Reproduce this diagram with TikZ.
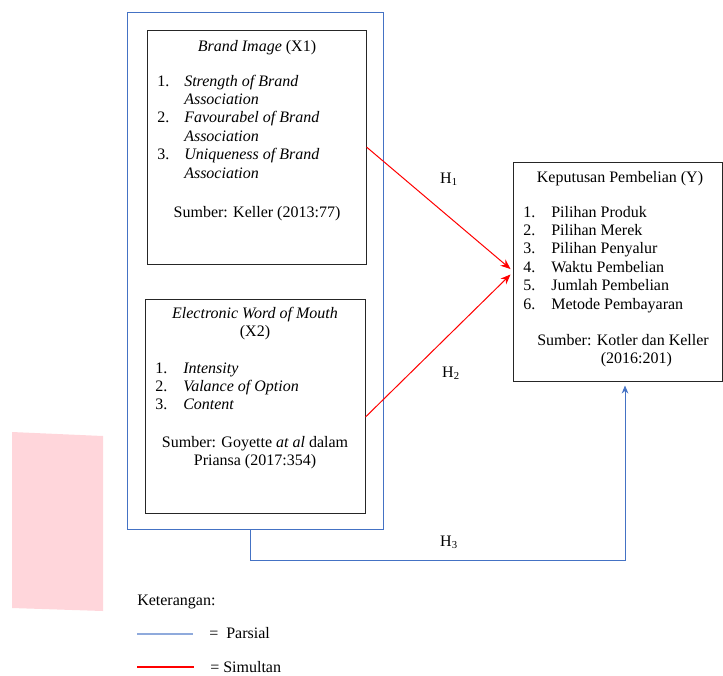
\documentclass[tikz,border=0pt]{standalone}
\usepackage{fontspec}
\setmainfont{Liberation Serif}
\usetikzlibrary{arrows.meta,calc,positioning}
\definecolor{wordblue}{RGB}{68,114,196}
\definecolor{legblue}{RGB}{143,170,220}
\definecolor{pinkpatch}{RGB}{255,214,219}

\tikzset{
  frame/.style={draw=wordblue, line width=0.75pt, inner sep=0pt},
  varbox/.style={draw=black!85, line width=0.75pt, inner sep=0pt},
  txt/.style={inner sep=0pt, font=\fontsize{12}{13.8}\selectfont},
  simultan/.style={draw=red, line width=0.75pt, -{Stealth[length=7.5pt,width=6pt]}},
  parsial/.style={draw=wordblue, line width=0.75pt, -{Stealth[length=6pt,width=5pt]}},
}

\begin{document}
\begin{tikzpicture}[x=0.75pt,y=0.75pt,yscale=-1,xscale=1]
    \useasboundingbox (0,0) rectangle (723,675);

    %Shape: pink patch
    \fill[pinkpatch] (12,432) -- (103,436) -- (103,611) -- (12,608) -- cycle;

    %Shape: blue frame round X1 and X2
    \node[frame, minimum width=192pt, minimum height=387.75pt] (frame) at (255,270.5) {};
    %Shape: boxes
    \node[varbox, minimum width=164.25pt, minimum height=175.5pt] (bi) at (256.5,147) {};
    \node[varbox, minimum width=165pt, minimum height=160.5pt] (ewom) at (255,406) {};
    \node[varbox, minimum width=156.75pt, minimum height=164.25pt] (kp) at (617.5,271.5) {};

    % Text Node
    \node[txt, anchor=base] (bititle) at (257,51) {\textit{Brand Image} (X1)};
    % Text Node
    \node[txt, anchor=base west] (bilist) at (157,86) {\begin{tabular}[t]{@{}p{20.25pt}@{}l@{}}
      1. & \textit{Strength of Brand}\\
         & \textit{Association}\\
      2. & \textit{Favourabel of Brand}\\
         & \textit{Association}\\
      3. & \textit{Uniqueness of Brand}\\
         & \textit{Association}
    \end{tabular}};
    % Text Node
    \node[txt, anchor=base] (bisrc) at (257,217) {Sumber: Keller (2013:77)};

    % Text Node
    \node[txt, anchor=base] (ewtitle) at (255,318) {\begin{tabular}[t]{@{}c@{}}
      \textit{Electronic Word of Mouth}\\ (X2)
    \end{tabular}};
    % Text Node
    \node[txt, anchor=base west] (ewlist) at (155,373) {\begin{tabular}[t]{@{}p{21pt}@{}l@{}}
      1. & \textit{Intensity}\\
      2. & \textit{Valance of Option}\\
      3. & \textit{Content}
    \end{tabular}};
    % Text Node
    \node[txt, anchor=base] (ewsrc) at (255,447) {\begin{tabular}[t]{@{}c@{}}
      Sumber: Goyette \textit{at al} dalam\\ Priansa (2017:354)
    \end{tabular}};

    % Text Node
    \node[txt, anchor=base] (kptitle) at (620,182) {Keputusan Pembelian (Y)};
    % Text Node
    \node[txt, anchor=base west] (kplist) at (523,217) {\begin{tabular}[t]{@{}p{21pt}@{}l@{}}
      1. & Pilihan Produk\\
      2. & Pilihan Merek\\
      3. & Pilihan Penyalur\\
      4. & Waktu Pembelian\\
      5. & Jumlah Pembelian\\
      6. & Metode Pembayaran
    \end{tabular}};
    % Text Node
    \node[txt, anchor=base] (kpsrc) at (623,345) {\begin{tabular}[t]{@{}c@{}}
      Sumber: Kotler dan Keller\\ \hspace*{20pt}(2016:201)
    \end{tabular}};

    %Arrows: simultan
    \draw[simultan] (bi.east) -- ($(kp.west)+(-2,-2.5)$);
    \draw[simultan] ($(ewom.east)+(0,11)$) -- ($(kp.west)+(-2,3)$);
    %Arrow: parsial
    \draw[parsial] ($(frame.south)+(-5,0)$) -- ++(0,31) -| ($(kp.south)+(7.5,4)$);

    % Text Node
    \node[txt, anchor=base] (h1) at (449,183) {H\textsubscript{1}};
    % Text Node
    \node[txt, anchor=base] (h2) at (451,377) {H\textsubscript{2}};
    % Text Node
    \node[txt, anchor=base] (h3) at (449,546) {H\textsubscript{3}};

    % Legend
    \node[txt, anchor=base west] (ket) at (137,605) {Keterangan:};
    \coordinate (parsa) at (137,634);
    \coordinate (parsb) at (193,634);
    \draw[legblue, line width=1pt] (parsa) -- (parsb);
    \node[txt, anchor=base west] (parsial) at (209,638) {=\hspace{6pt}Parsial};
    \coordinate (simua) at (137,667);
    \coordinate (simub) at (194,667);
    \draw[red, line width=1pt] (simua) -- (simub);
    \node[txt, anchor=base west] (simultan) at (210,672) {= Simultan};
\end{tikzpicture}
\end{document}
